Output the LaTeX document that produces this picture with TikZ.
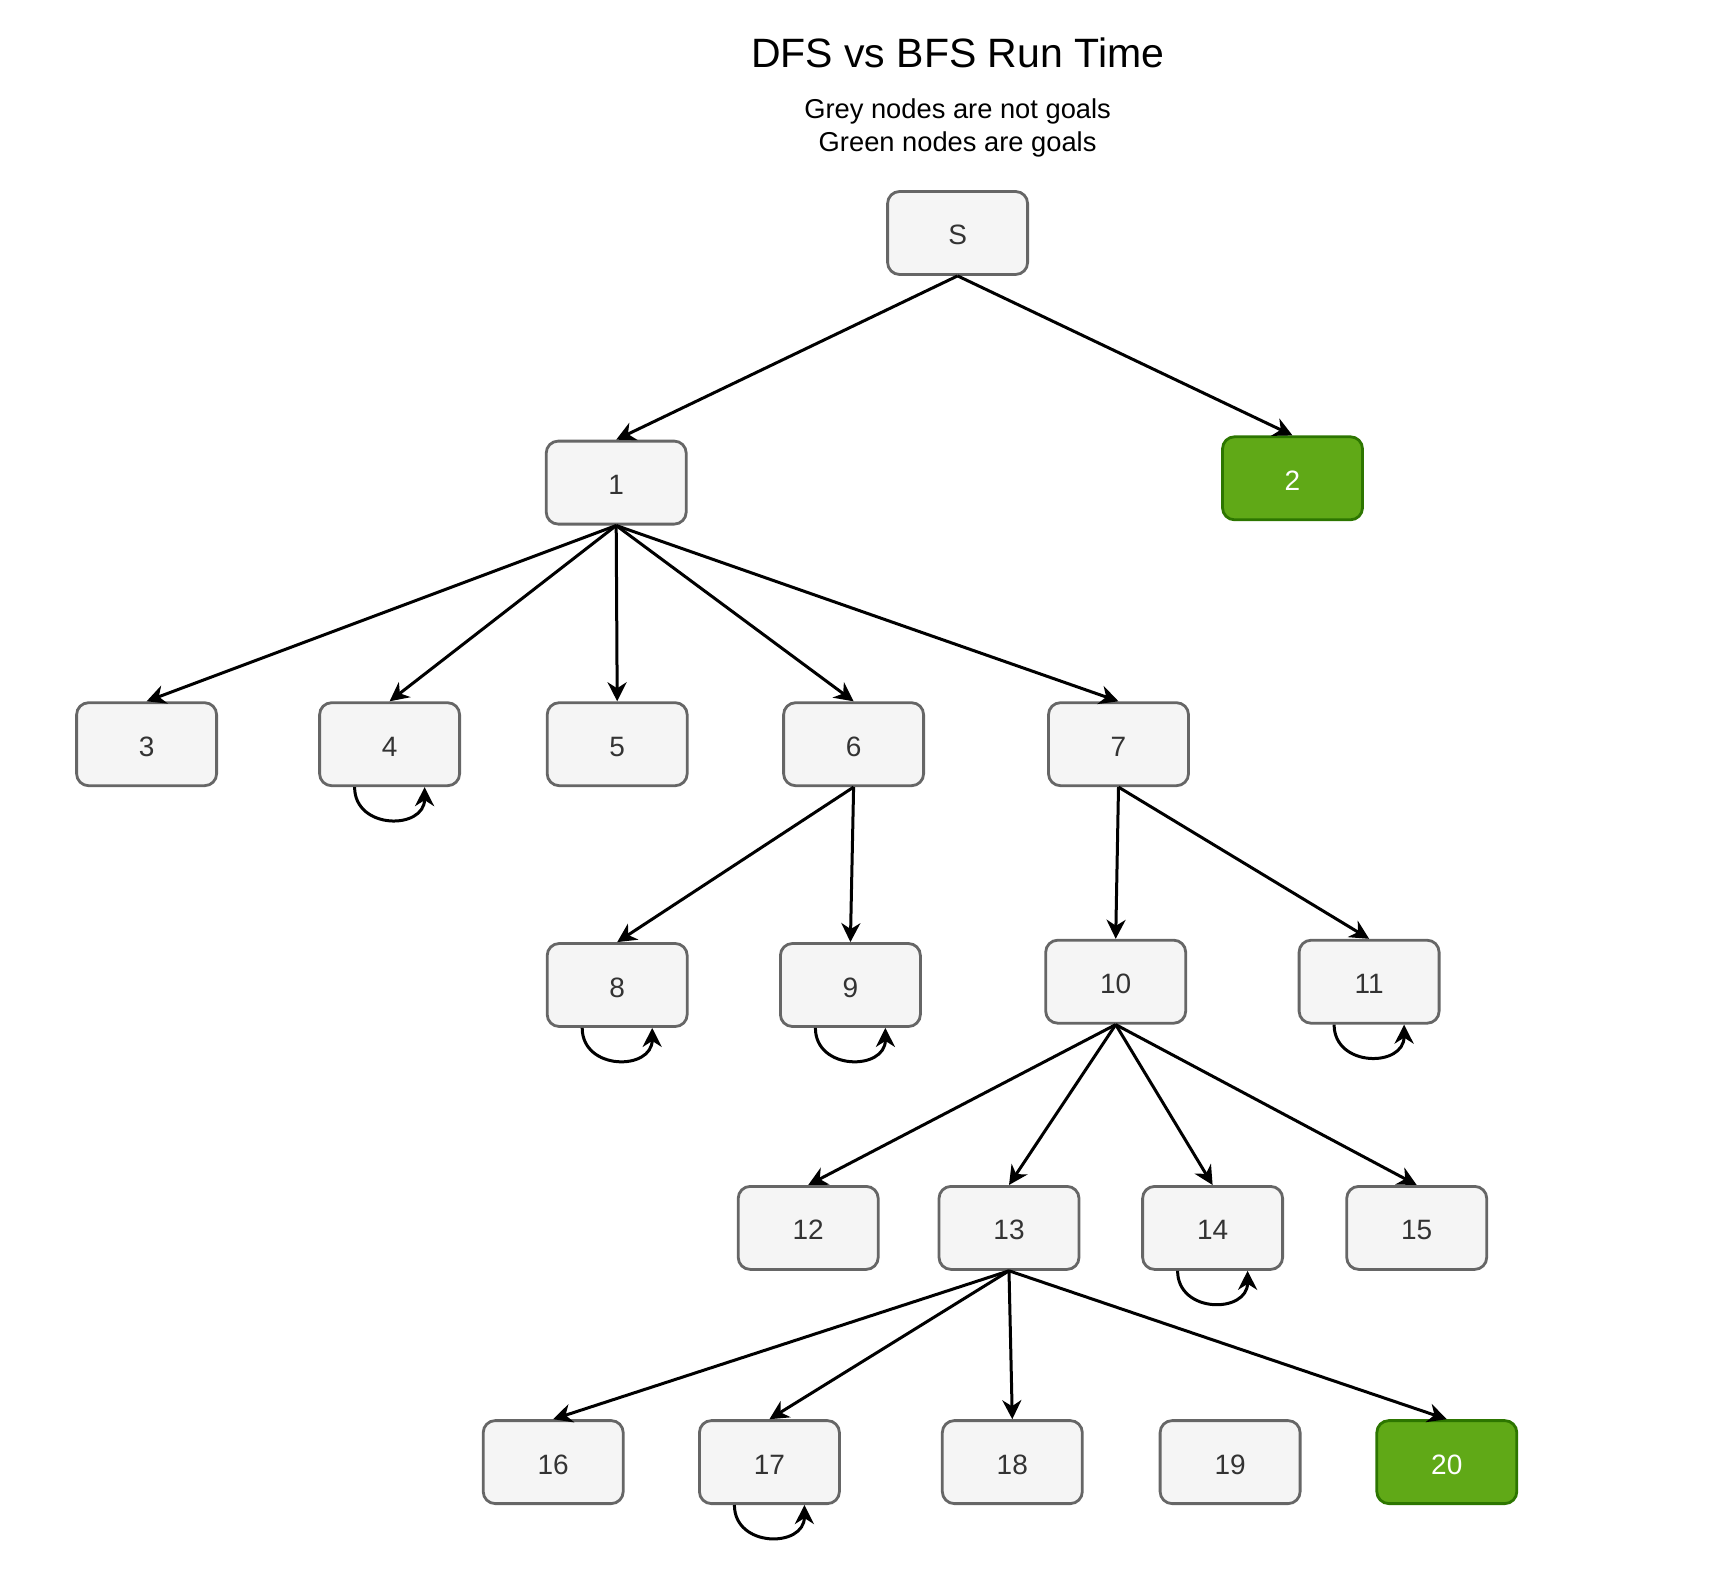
\documentclass[tikz,border=0pt]{standalone}
\usepackage{fontspec}
\setmainfont{Liberation Sans}
\usetikzlibrary{arrows.meta}

\definecolor{nodefill}{HTML}{F5F5F5}
\definecolor{nodeedge}{HTML}{666666}
\definecolor{nodetext}{HTML}{333333}
\definecolor{goalfill}{HTML}{60A917}
\definecolor{goaledge}{HTML}{2D7600}

\begin{document}
\begin{tikzpicture}[x=1pt,y=1pt,yscale=-1,xscale=1,
  state/.style={draw=nodeedge,fill=nodefill,text=nodetext,line width=2.8pt,rounded corners=12pt,
    minimum width=140pt,minimum height=83pt,inner sep=0pt,text height=24pt,text depth=0pt,
    font=\fontsize{28}{32}\selectfont},
  goal/.style={state,draw=goaledge,fill=goalfill,text=white},
  link/.style={line width=3pt,-{Stealth[length=19pt,width=19pt,inset=6pt]}}]
\useasboundingbox (0,0) rectangle (1716,1594);

% Text Node
\node (title) at (957.6,52.5) {\fontsize{41}{48}\selectfont DFS vs BFS Run Time};
% Text Node
\node (legend) [align=center,font=\fontsize{27.3}{33}\selectfont] at (957.6,128) {Grey nodes are not goals\\Green nodes are goals};

%Shape: Rounded Rect
\node (s) [state] at (957.6,233) {S};
\node (n1) [state] at (616.2,482.6) {1};
\node (n2) [goal] at (1292.5,478.3) {2};
\node (n3) [state] at (146.6,744.2) {3};
\node (n4) [state] at (389.6,744.2) {4};
\node (n5) [state] at (617.2,744.2) {5};
\node (n6) [state] at (853.6,744.2) {6};
\node (n7) [state] at (1118.5,744.2) {7};
\node (n8) [state] at (617.2,985) {8};
\node (n9) [state] at (850.4,985) {9};
\node (n10) [state] at (1115.7,981.7) {10};
\node (n11) [state] at (1369.1,981.7) {11};
\node (n12) [state] at (808.2,1227.9) {12};
\node (n13) [state] at (1009,1227.9) {13};
\node (n14) [state] at (1212.6,1227.9) {14};
\node (n15) [state] at (1416.7,1227.9) {15};
\node (n16) [state] at (553.2,1462.1) {16};
\node (n17) [state] at (769.4,1462.1) {17};
\node (n18) [state] at (1012.3,1462.1) {18};
\node (n19) [state] at (1230.1,1462.1) {19};
\node (n20) [goal] at (1446.8,1462.1) {20};

%Straight Lines
\draw [link] (s.south) -- (n1.north);
\draw [link] (s.south) -- (n2.north);
\foreach \k in {n3,n4,n5,n6,n7}
  \draw [link] (n1.south) -- (\k.north);
\draw [link] (n6.south) -- (n8.north);
\draw [link] (n6.south) -- (n9.north);
\draw [link] (n7.south) -- (n10.north);
\draw [link] (n7.south) -- (n11.north);
\foreach \k in {n12,n13,n14,n15}
  \draw [link] (n10.south) -- (\k.north);
\foreach \k in {n16,n17,n18,n20}
  \draw [link] (n13.south) -- (\k.north);

%Curve Lines: self loops
\foreach \k in {n4,n8,n9,n11,n14,n17}
  \draw [link] ([xshift=-35pt]\k.south) .. controls +(0,43) and +(0,43) .. ([xshift=35pt]\k.south);

\end{tikzpicture}
\end{document}
